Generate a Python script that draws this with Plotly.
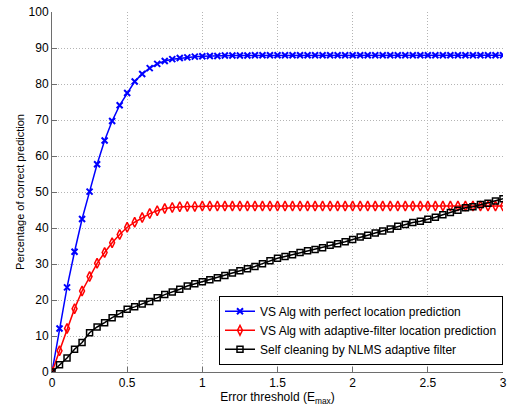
import plotly.graph_objects as go

x_vals = [0.0, 0.05, 0.1, 0.15, 0.2, 0.25, 0.3, 0.35, 0.4, 0.45,
          0.5, 0.55, 0.6, 0.65, 0.7, 0.75, 0.8, 0.85, 0.9, 0.95,
          1.0, 1.05, 1.1, 1.15, 1.2, 1.25, 1.3, 1.35, 1.4, 1.45,
          1.5, 1.55, 1.6, 1.65, 1.7, 1.75, 1.8, 1.85, 1.9, 1.95,
          2.0, 2.05, 2.1, 2.15, 2.2, 2.25, 2.3, 2.35, 2.4, 2.45,
          2.5, 2.55, 2.6, 2.65, 2.7, 2.75, 2.8, 2.85, 2.9, 2.95, 3.0]

vs_perfect = [0.0, 12.1, 23.5, 33.4, 42.5, 50.1, 57.7, 64.3, 69.7, 74.1,
              77.5, 80.7, 82.8, 84.4, 85.6, 86.4, 86.9, 87.2, 87.4, 87.6,
              87.7, 87.8, 87.8, 87.9, 87.9, 87.9, 87.9, 88.0, 88.0, 88.0,
              88.0, 88.0, 88.0, 88.0, 88.0, 88.0, 88.0, 88.0, 88.0, 88.0,
              88.0, 88.0, 88.0, 88.0, 88.0, 88.0, 88.0, 88.0, 88.0, 88.0,
              88.0, 88.0, 88.0, 88.0, 88.0, 88.0, 88.0, 88.0, 88.0, 88.0, 88.0]

vs_adaptive = [0.0, 5.9, 12.1, 17.6, 22.5, 26.5, 30.2, 33.2, 35.9, 38.2,
               40.2, 41.6, 42.9, 44.0, 44.8, 45.4, 45.7, 45.9, 46.0, 46.0,
               46.1, 46.1, 46.1, 46.1, 46.1, 46.1, 46.1, 46.1, 46.1, 46.1,
               46.1, 46.1, 46.1, 46.1, 46.1, 46.1, 46.1, 46.1, 46.1, 46.1,
               46.1, 46.1, 46.1, 46.1, 46.1, 46.1, 46.1, 46.1, 46.1, 46.1,
               46.1, 46.1, 46.1, 46.1, 46.1, 46.1, 46.1, 46.1, 46.1, 46.1, 46.1]

nlms = [0.0, 2.0, 3.9, 6.3, 8.2, 10.9, 12.5, 13.7, 15.1, 16.2,
        17.4, 18.1, 18.9, 19.6, 20.6, 21.5, 22.2, 23.0, 23.9, 24.5,
        25.1, 25.6, 26.2, 26.8, 27.5, 28.1, 28.7, 29.3, 30.1, 30.9,
        31.6, 32.1, 32.6, 33.2, 33.7, 34.0, 34.5, 35.2, 35.6, 36.2,
        36.8, 37.5, 38.0, 38.6, 39.2, 39.7, 40.5, 41.0, 41.5, 41.9,
        42.4, 43.0, 43.7, 44.3, 44.9, 45.6, 45.9, 46.5, 46.9, 47.5, 48.1]

names = ["VS Alg with perfect location prediction",
         "VS Alg with adaptive-filter location prediction",
         "Self cleaning by NLMS adaptive filter"]

x_ticks = [0, 0.5, 1, 1.5, 2, 2.5, 3]
x_tick_labels = ["0", "0.5", "1", "1.5", "2", "2.5", "3"]
y_ticks = [0, 10, 20, 30, 40, 50, 60, 70, 80, 90, 100]

FONT = "Liberation Sans, Arial, Helvetica, sans-serif"

fig = go.Figure()
fig.add_trace(go.Scatter(
    x=x_vals, y=vs_perfect, name=names[0], mode="lines+markers",
    line=dict(color="#0000ff", width=1.5),
    marker=dict(symbol="x-thin-open", size=6, color="#0000ff",
                line=dict(color="#0000ff", width=2))))
fig.add_trace(go.Scatter(
    x=x_vals, y=vs_adaptive, name=names[1], mode="lines+markers",
    line=dict(color="#ff0000", width=1.5),
    marker=dict(symbol="diamond-tall-open", size=7, color="#ff0000",
                line=dict(color="#ff0000", width=1.5))))
fig.add_trace(go.Scatter(
    x=x_vals, y=nlms, name=names[2], mode="lines+markers",
    line=dict(color="#000000", width=1.5),
    marker=dict(symbol="square-open", size=6, color="#000000",
                line=dict(color="#000000", width=1.5))))

axis_common = dict(
    showgrid=True, gridcolor="#b4b4b4", griddash="1px,2px", gridwidth=1,
    showline=True, linecolor="#6e6e6e", linewidth=1,
    ticks="inside", ticklen=5, tickcolor="#6e6e6e",
    zeroline=False, tickfont=dict(family=FONT, size=12, color="#000"),
    ticklabeloverflow="allow",
)

fig.update_xaxes(range=[0, 3], tickvals=x_ticks, ticktext=x_tick_labels,
                 title=dict(text="Error threshold (E<sub>max</sub>)",
                            font=dict(family=FONT, size=12, color="#000"),
                            standoff=3),
                 **axis_common)
fig.update_yaxes(range=[0, 100], tickvals=y_ticks,
                 title=dict(text="Percentage of correct prediction",
                            font=dict(family=FONT, size=11, color="#000"),
                            standoff=1),
                 **axis_common)

fig.update_layout(
    width=508, height=411,
    margin=dict(l=52, r=1, t=12, b=39),
    plot_bgcolor="white", paper_bgcolor="white",
    font=dict(family=FONT, size=11, color="#000"),
    legend=dict(x=1, y=0.02, xanchor="right", yanchor="bottom",
                bgcolor="white", bordercolor="#000", borderwidth=1,
                font=dict(family=FONT, size=12, color="#000"),
                tracegroupgap=0, itemwidth=30),
)

fig.write_html("out.html")
